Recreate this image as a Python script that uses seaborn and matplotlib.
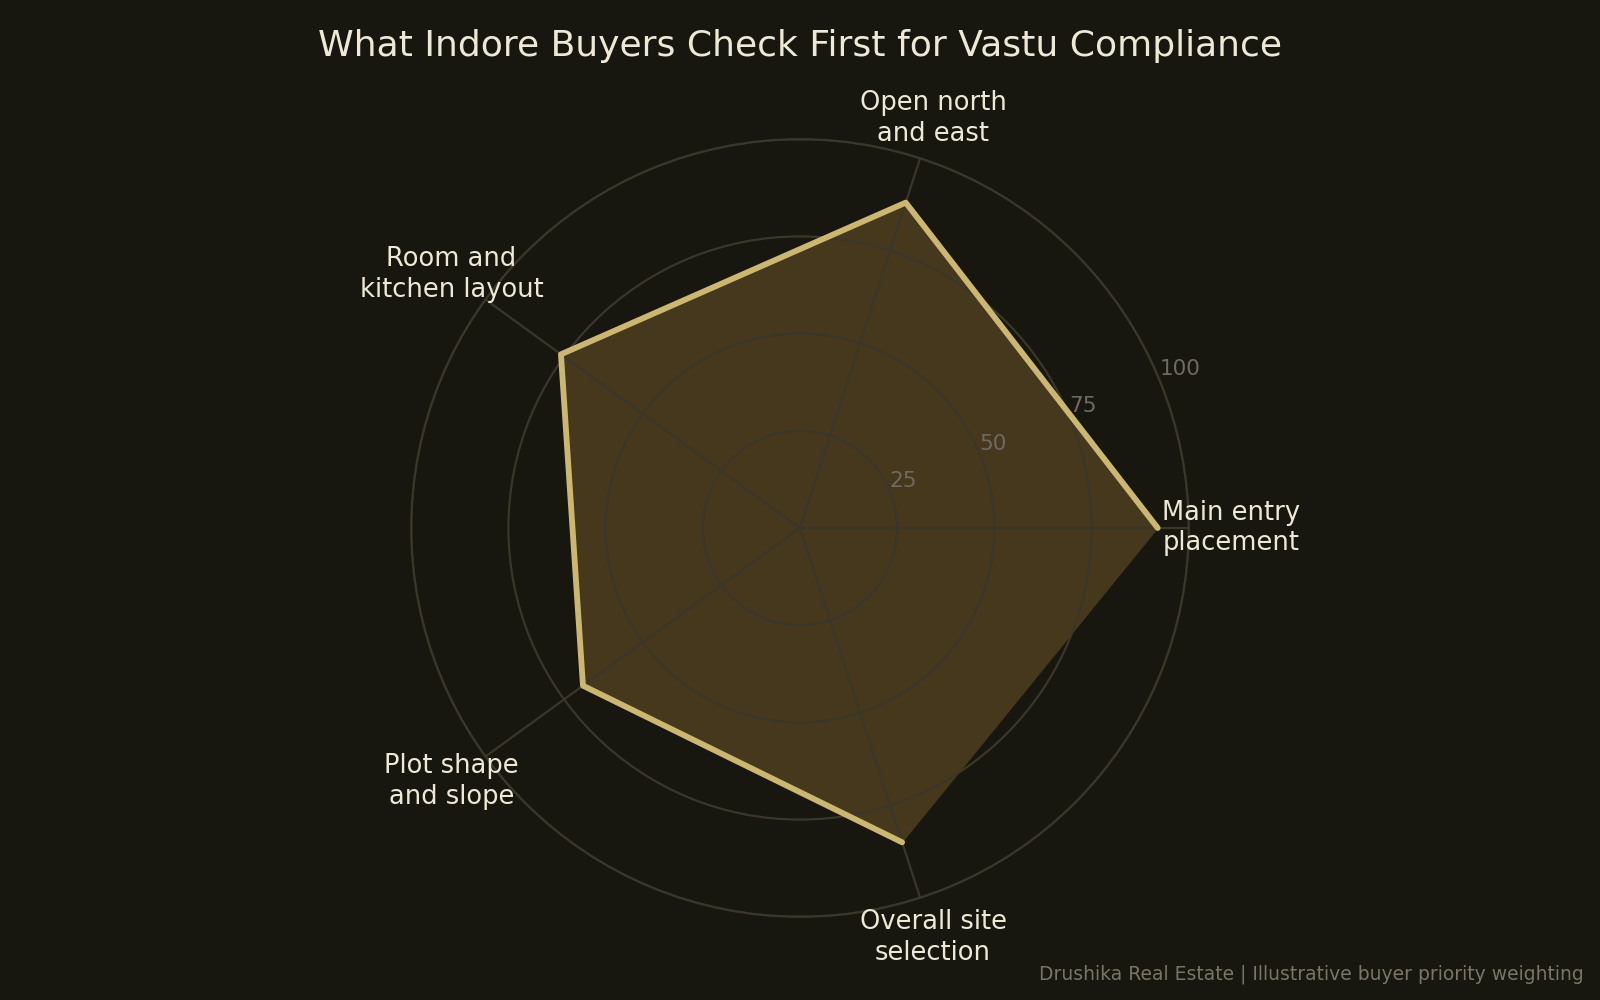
import numpy as np
import pandas as pd
import matplotlib
matplotlib.use('Agg')
import matplotlib.pyplot as plt
import seaborn as sns

categories = ['Main entry\nplacement', 'Open north\nand east', 'Room and\nkitchen layout',
              'Plot shape\nand slope', 'Overall site\nselection']
scores = [92, 88, 76, 69, 85]
r_ticks = [25, 50, 75, 100]

bg = '#17160f'
gold = '#cbb771'
fill_col = '#45381d'
grid_col = '#3a3629'
text_col = '#eee8d6'
muted = '#6e6a5f'

sns.set_theme(style='dark', rc={'figure.facecolor': bg, 'axes.facecolor': bg})
plt.rcParams['font.family'] = ['DejaVu Sans']

angles = np.linspace(0, 2 * np.pi, len(categories), endpoint=False)
df = pd.DataFrame({'angle': np.append(angles, angles[0]),
                   'score': scores + scores[:1]})

fig = plt.figure(figsize=(16, 10), dpi=100)
ax = fig.add_axes([0.257, 0.083, 0.486, 0.778], projection='polar')
ax.set_facecolor(bg)

ax.fill(df['angle'], df['score'], color=fill_col, zorder=1)
sns.lineplot(data=df, x='angle', y='score', sort=False, ax=ax,
             color=gold, linewidth=4.2, zorder=3)

ax.set_ylim(0, 100)
ax.set_yticks(r_ticks)
ax.set_yticklabels([str(t) for t in r_ticks], color=muted, fontsize=15.5)
ax.set_rlabel_position(22.5)
ax.set_xticks(angles)
ax.set_xticklabels([])
ax.grid(True, color=grid_col, linewidth=1.6, zorder=2)
ax.set_axisbelow(False)
ax.spines['polar'].set_visible(True)
ax.spines['polar'].set_color(grid_col)
ax.spines['polar'].set_linewidth(1.6)
ax.set_xlabel('')
ax.set_ylabel('')

for a, lab in zip(angles, categories):
    ax.text(a, 110.8, lab, ha='center', va='center', color=text_col,
            fontsize=18.5, linespacing=1.25)

fig.text(0.5, 0.954, 'What Indore Buyers Check First for Vastu Compliance',
         ha='center', va='center', color=text_col, fontsize=26)
fig.text(0.99, 0.026, 'Drushika Real Estate | Illustrative buyer priority weighting',
         ha='right', va='center', color='#7a7566', fontsize=13.5)

fig.savefig('out.png', dpi=100, facecolor=bg)
